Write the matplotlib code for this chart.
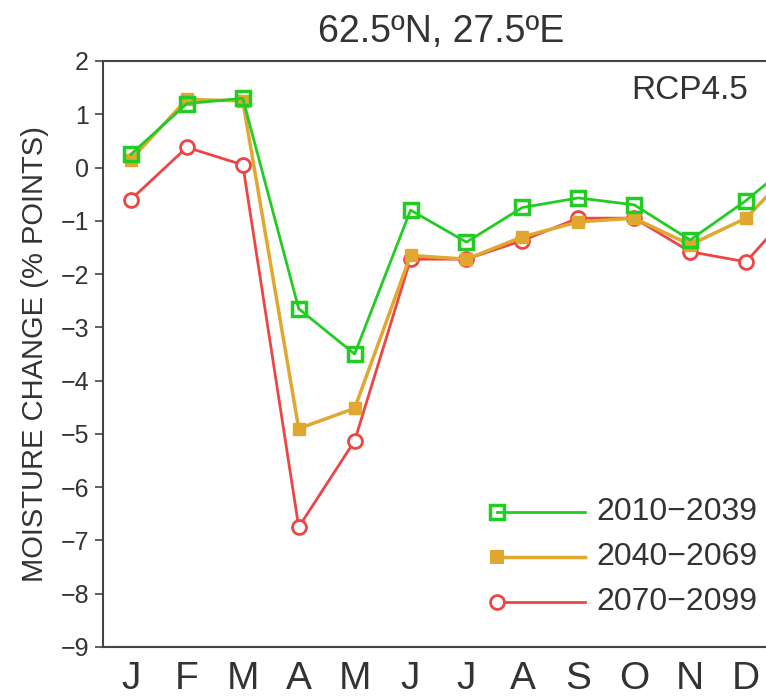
import numpy as np
import matplotlib.pyplot as plt

# monthly moisture change, 62.5N 27.5E, RCP4.5
months = ['J', 'F', 'M', 'A', 'M', 'J', 'J', 'A', 'S', 'O', 'N', 'D']
p2010 = [0.25, 1.2, 1.3, -2.65, -3.5, -0.8, -1.4, -0.75, -0.57, -0.7, -1.36, -0.62]
p2040 = [0.15, 1.28, 1.25, -4.9, -4.52, -1.65, -1.72, -1.3, -1.02, -0.95, -1.45, -0.95]
p2070 = [-0.6, 0.38, 0.05, -6.75, -5.13, -1.72, -1.72, -1.37, -0.95, -0.95, -1.58, -1.77]
labels = ['2010\u22122039', '2040\u22122069', '2070\u22122099']

# curves wrap around to January again (cut off by the frame)
x = np.arange(1, 14)
def wrap(v):
    return list(v) + [v[0]]

green = '#22cc22'
orange = '#e0a830'
red = '#ee4444'
ink = '#444444'
txt = '#333333'

plt.rcParams['font.family'] = ['Liberation Sans', 'DejaVu Sans']

fig = plt.figure(figsize=(7.66, 7.0), dpi=100)
ax = fig.add_axes([103/766, 53/700, 671/766, 586/700])

ax.plot(x, wrap(p2070), '-o', color=red, lw=2, ms=10, mfc='white', mec=red, mew=2, zorder=3)
ax.plot(x, wrap(p2040), '-s', color=orange, lw=2.5, ms=9, mfc=orange, mec=orange, zorder=4)
ax.plot(x, wrap(p2010), '-s', color=green, lw=2, ms=10, mfc='none', mec=green, mew=2.5, zorder=5)

ax.set_xlim(0.5, 12.5)
ax.set_ylim(-9, 2)
ax.set_yticks(range(-9, 3))
ax.set_yticklabels([str(v).replace('-', '\u2212') for v in range(-9, 3)], fontsize=18, color=txt)
ax.set_xticks(range(1, 13))
ax.set_xticklabels(months, fontsize=28, color=txt)
ax.tick_params(axis='x', length=0, pad=10)
ax.tick_params(axis='y', length=6, width=1.2, color=ink, pad=4)
for s in ax.spines.values():
    s.set_color(ink)
    s.set_linewidth(1.5)

ax.set_ylabel('MOISTURE CHANGE (% POINTS)', fontsize=21, color=txt, labelpad=8)
fig.text(441/766, 1 - 42/700, '62.5\u00baN, 27.5\u00baE', ha='center', va='baseline', fontsize=27, color=txt)
ax.text(0.961, 0.949, 'RCP4.5', transform=ax.transAxes, ha='right', va='center', fontsize=24, color=txt)

# legend drawn by hand: marker at left end of the line
legend_y = [0.231, 0.154, 0.077]
styles = [(green, 's', 'none', green, 2.5), (orange, 's', orange, orange, 0),
          (red, 'o', 'white', red, 2)]
for y, lab, (c, m, fc, ec, mew) in zip(legend_y, labels, styles):
    ax.plot([0.587, 0.718], [y, y], color=c, lw=2.5 if c == orange else 2, transform=ax.transAxes)
    ax.plot([0.587], [y], marker=m, ms=10, mfc=fc, mec=ec, mew=mew, color=c, transform=ax.transAxes)
    ax.text(0.736, y, lab, transform=ax.transAxes, va='center', ha='left', fontsize=23, color=txt)

fig.savefig('out.png', dpi=100)
